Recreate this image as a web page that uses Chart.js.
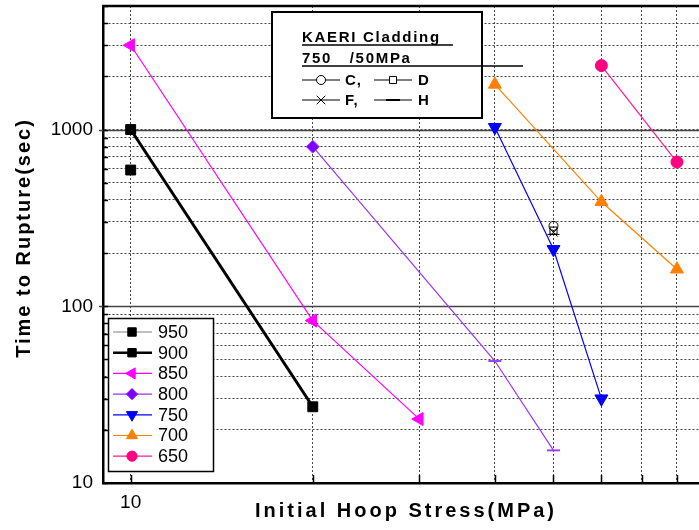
<!DOCTYPE html>
<html>
<head>
<meta charset="utf-8">
<script src="https://cdn.jsdelivr.net/npm/chart.js@4.4.0/dist/chart.umd.min.js"></script>
<style>
  html, body { margin: 0; padding: 0; background: #fff; }
  #wrap { width: 699px; height: 530px; }
</style>
</head>
<body>
<div id="wrap"><canvas id="chart"></canvas></div>
<script>
// initial hoop stress (MPa) vs time to rupture (sec), one pair per temperature
const stress950 = [10];
const time950 = [590];
const stress900 = [10, 20];
const time900 = [1000, 27];
const stress850 = [10, 20, 30];
const time850 = [3000, 83, 23];
const stress800 = [20, 40, 50];
const time800 = [800, 49, 15.3];
const stress750 = [40, 50, 60];
const time750 = [1030, 210, 30];
const stress700 = [40, 60, 80];
const time700 = [1800, 390, 162];
const stress650 = [60, 80];
const time650 = [2300, 655];

// KAERI cladding 750 /50MPa
const kaeriNames = ["C", "D", "F", "H"];
const kaeriStress = [50, 50, 50, 50];
const kaeriTime = [285, 268, 262, 255];

const xTicks = [10, 20, 30, 40, 50, 60, 70, 80];
const xLabels = [10];
const yTicks = [10, 20, 30, 40, 50, 60, 70, 80, 90,
  100, 200, 300, 400, 500, 600, 700, 800, 900,
  1000, 2000, 3000, 4000, 5000];
const yLabels = [10, 100, 1000];
const yMajor = [100, 1000];

const FONT = "'Liberation Sans', Arial, Helvetica, sans-serif";

function pts(xs, ys) {
  return xs.map(function (x, i) { return { x: x, y: ys[i] }; });
}

function series(label, xs, ys, line, mark, style, rot, r, w) {
  return {
    label: label,
    data: pts(xs, ys),
    showLine: true,
    borderColor: line,
    borderWidth: w,
    backgroundColor: mark,
    pointBackgroundColor: mark,
    pointBorderColor: mark,
    pointBorderWidth: 1,
    pointStyle: style,
    pointRotation: rot,
    pointRadius: r,
    pointHoverRadius: r
  };
}

var datasets = [
  series("950", stress950, time950, "#808080", "#000000", "rect", 0, 7, 1),
  series("900", stress900, time900, "#000000", "#000000", "rect", 0, 7, 3),
  series("850", stress850, time850, "#ff00ff", "#ff00ff", "triangle", -90, 7.5, 1.2),
  series("800", stress800, time800, "#9933ff", "#8000ff", ["rectRot", "line", "line"], 0, 6.5, 1.2),
  series("750", stress750, time750, "#0000ff", "#0000ff", "triangle", 180, 7.5, 1.2),
  series("700", stress700, time700, "#ff8000", "#ff8000", "triangle", 0, 7.5, 1.2),
  series("650", stress650, time650, "#ff1a8c", "#ff0080", "circle", 0, 6, 1.2)
];
datasets[3].pointBorderWidth = [1, 2, 2];
datasets[3].pointBorderColor = "#a040ff";

datasets.push({
  label: "KAERI",
  data: pts(kaeriStress, kaeriTime),
  showLine: false,
  borderColor: "#000",
  backgroundColor: "rgba(0,0,0,0)",
  pointBackgroundColor: "rgba(0,0,0,0)",
  pointBorderColor: "#000",
  pointBorderWidth: 1,
  pointStyle: ["circle", "rect", "crossRot", "line"],
  pointRadius: [4.5, 5, 6, 6],
  pointHoverRadius: [4.5, 5, 6, 6]
});

function mark(ctx, style, rot, r, x, y, fill, stroke, bw) {
  ctx.fillStyle = fill;
  ctx.strokeStyle = stroke;
  ctx.lineWidth = bw;
  Chart.helpers.drawPoint(ctx, { pointStyle: style, rotation: rot, radius: r, borderWidth: bw }, x, y);
}

function spaced(ctx, text, x, y, sp) {
  ctx.letterSpacing = sp + "px";
  ctx.fillText(text, x, y);
  ctx.letterSpacing = "0px";
}

const extras = {
  id: "extras",
  beforeDatasetsDraw(chart) {
    const ctx = chart.ctx, a = chart.chartArea, y = chart.scales.y, x = chart.scales.x;
    ctx.save();
    ctx.strokeStyle = "#444";
    ctx.lineWidth = 1.5;
    yMajor.forEach(function (v) {
      var py = Math.round(y.getPixelForValue(v)) + 0.5;
      ctx.beginPath(); ctx.moveTo(a.left - 4, py); ctx.lineTo(a.right, py); ctx.stroke();
    });
    // small inward ticks
    ctx.strokeStyle = "#000";
    ctx.lineWidth = 1.5;
    yTicks.forEach(function (v) {
      var py = Math.round(y.getPixelForValue(v)) + 0.5;
      ctx.beginPath(); ctx.moveTo(a.left, py); ctx.lineTo(a.left + 5, py); ctx.stroke();
    });
    xTicks.forEach(function (v) {
      var px = Math.round(x.getPixelForValue(v)) + 0.5;
      ctx.beginPath(); ctx.moveTo(px, a.bottom); ctx.lineTo(px, a.bottom - 8); ctx.stroke();
    });
    ctx.lineWidth = 2.5;
    ctx.beginPath(); ctx.moveTo(a.left - 1, a.top); ctx.lineTo(a.right, a.top); ctx.stroke();
    ctx.restore();
  },
  afterDraw(chart) {
    const ctx = chart.ctx;
    ctx.save();

    // axis titles
    ctx.fillStyle = "#000";
    ctx.font = "bold 20px " + FONT;
    ctx.textAlign = "center";
    ctx.textBaseline = "alphabetic";
    spaced(ctx, "Initial Hoop Stress(MPa)", 406, 517, 3);
    ctx.save();
    ctx.translate(24, 238);
    ctx.rotate(-Math.PI / 2);
    ctx.textBaseline = "middle";
    spaced(ctx, "Time to Rupture(sec)", 0, 0, 2);
    ctx.restore();

    // temperature legend
    ctx.fillStyle = "#fff";
    ctx.strokeStyle = "#000";
    ctx.lineWidth = 1.5;
    ctx.fillRect(108.5, 318.5, 105, 153);
    ctx.strokeRect(108.5, 318.5, 105, 153);
    ctx.font = "18px " + FONT;
    ctx.textAlign = "left";
    ctx.textBaseline = "middle";
    for (var i = 0; i < 7; i++) {
      var ds = chart.data.datasets[i];
      var ly = 332 + i * 20.7;
      ctx.strokeStyle = ds.borderColor;
      ctx.lineWidth = ds.borderWidth > 2 ? 2.5 : 1.2;
      ctx.beginPath(); ctx.moveTo(113, ly); ctx.lineTo(152, ly); ctx.stroke();
      var st = Array.isArray(ds.pointStyle) ? ds.pointStyle[0] : ds.pointStyle;
      mark(ctx, st, ds.pointRotation, ds.pointRadius * 0.85, 132, ly, ds.pointBackgroundColor, ds.pointBackgroundColor, 1);
      ctx.fillStyle = "#000";
      ctx.fillText(ds.label, 158, ly + 1);
    }

    // KAERI legend
    ctx.fillStyle = "#fff";
    ctx.strokeStyle = "#000";
    ctx.lineWidth = 2;
    ctx.fillRect(272, 12, 210, 106);
    ctx.strokeRect(272, 12, 210, 106);
    ctx.fillStyle = "#000";
    ctx.font = "bold 15px " + FONT;
    ctx.textBaseline = "alphabetic";
    spaced(ctx, "KAERI Cladding", 302, 42, 1.7);
    spaced(ctx, "750   /50MPa", 302, 63, 1.7);
    ctx.lineWidth = 1.5;
    ctx.beginPath(); ctx.moveTo(302, 45); ctx.lineTo(453, 45); ctx.stroke();
    ctx.beginPath(); ctx.moveTo(302, 66); ctx.lineTo(523, 66); ctx.stroke();

    var kd = chart.data.datasets[7];
    var rows = [
      { y: 80, items: [[302, 0, "C,"], [374, 1, "D"]] },
      { y: 100, items: [[302, 2, "F,"], [374, 3, "H"]] }
    ];
    rows.forEach(function (row) {
      row.items.forEach(function (it) {
        var x0 = it[0], k = it[1];
        ctx.strokeStyle = "#000";
        ctx.lineWidth = 1;
        ctx.beginPath(); ctx.moveTo(x0, row.y); ctx.lineTo(x0 + 38, row.y); ctx.stroke();
        var r = k === 3 ? 7 : kd.pointRadius[k];
        mark(ctx, kd.pointStyle[k], 0, r, x0 + 19, row.y, "#fff", "#000", k === 3 ? 2 : 1);
        ctx.fillStyle = "#000";
        ctx.font = "bold 15px " + FONT;
        ctx.textBaseline = "middle";
        spaced(ctx, it[2], x0 + (k % 2 === 0 ? 43 : 44), row.y + 1, 1);
      });
    });
    ctx.restore();
  }
};

new Chart(document.getElementById("chart"), {
  type: "scatter",
  data: { datasets: datasets },
  options: {
    responsive: true,
    maintainAspectRatio: false,
    animation: false,
    layout: { autoPadding: false, padding: { top: 6, right: 0, left: 0, bottom: 0 } },
    plugins: {
      legend: { display: false },
      tooltip: { enabled: false }
    },
    scales: {
      x: {
        type: "logarithmic",
        min: 9,
        max: 87,
        afterBuildTicks: function (s) { s.ticks = xTicks.map(function (v) { return { value: v }; }); },
        afterFit: function (s) { s.height = 47; s.paddingLeft = 0; s.paddingRight = 0; },
        ticks: {
          autoSkip: false,
          maxRotation: 0,
          padding: 8,
          color: "#000",
          font: { family: FONT, size: 19 },
          callback: function (v) { return xLabels.indexOf(v) >= 0 ? String(v) : ""; }
        },
        grid: { color: "#444", lineWidth: 1, drawTicks: false },
        border: { display: true, color: "#000", width: 2.5, dash: [2, 2] }
      },
      y: {
        type: "logarithmic",
        min: 10,
        max: 5000,
        afterBuildTicks: function (s) { s.ticks = yTicks.map(function (v) { return { value: v }; }); },
        afterFit: function (s) { s.width = 103; s.paddingTop = 0; s.paddingBottom = 0; },
        ticks: {
          autoSkip: false,
          padding: 10,
          color: "#000",
          font: { family: FONT, size: 19 },
          callback: function (v) { return yLabels.indexOf(v) >= 0 ? String(v) : ""; }
        },
        grid: { color: "#444", lineWidth: 1, drawTicks: false },
        border: { display: true, color: "#000", width: 2.5, dash: [2, 2] }
      }
    }
  },
  plugins: [extras]
});
</script>
</body>
</html>
